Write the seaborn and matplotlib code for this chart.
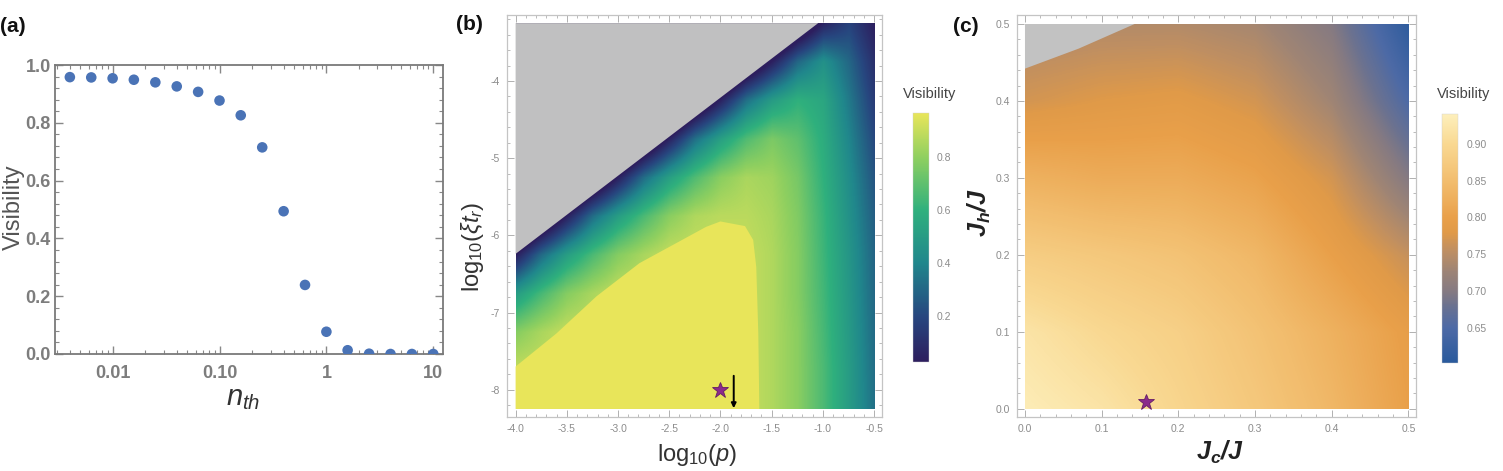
import numpy as np
import pandas as pd
import seaborn as sns
import matplotlib
matplotlib.use("Agg")
import matplotlib.pyplot as plt
from matplotlib.colors import LinearSegmentedColormap, Normalize
from matplotlib.patches import Rectangle
from matplotlib.ticker import MultipleLocator, AutoMinorLocator, FormatStrFormatter

# -----------------------------------------------------------------------------
# Data
# -----------------------------------------------------------------------------
# (a) visibility vs thermal occupation
n_th = [0.00398, 0.00631, 0.01, 0.0158, 0.0251, 0.0398, 0.0631, 0.1, 0.158,
        0.251, 0.398, 0.631, 1.0, 1.58, 2.51, 3.98, 6.31, 10.0]
vis_a = [0.958, 0.957, 0.954, 0.949, 0.940, 0.926, 0.907, 0.877, 0.826,
         0.715, 0.494, 0.239, 0.077, 0.013, 0.001, 0.0, 0.0, 0.0]

# (b) visibility map over log10(p) (columns) x log10(xi t_r) (rows, bottom -> top)
# values under the grey mask (negative) only keep the shading smooth up to its edge
log_p = [-4.0, -3.75, -3.5, -3.25, -3.0, -2.75, -2.5, -2.25, -2.0, -1.75,
         -1.5, -1.25, -1.0, -0.75, -0.5]
log_xt = [-8.25, -7.75, -7.25, -6.75, -6.25, -5.75, -5.25, -4.75, -4.25, -3.75, -3.25]
vis_b = [
    [0.90, 0.90, 0.90, 0.90, 0.90, 0.90, 0.90, 0.90, 0.90, 0.90, 0.86, 0.79, 0.66, 0.50, 0.33],
    [0.90, 0.90, 0.90, 0.90, 0.90, 0.90, 0.90, 0.90, 0.90, 0.90, 0.86, 0.79, 0.66, 0.50, 0.32],
    [0.78, 0.85, 0.90, 0.90, 0.90, 0.90, 0.90, 0.90, 0.90, 0.90, 0.86, 0.79, 0.65, 0.49, 0.31],
    [0.50, 0.65, 0.78, 0.85, 0.90, 0.90, 0.90, 0.90, 0.90, 0.90, 0.86, 0.78, 0.64, 0.48, 0.30],
    [0.03, 0.31, 0.51, 0.66, 0.78, 0.85, 0.90, 0.90, 0.90, 0.90, 0.86, 0.78, 0.63, 0.47, 0.29],
    [-0.49, -0.24, 0.04, 0.32, 0.51, 0.66, 0.79, 0.86, 0.88, 0.88, 0.85, 0.77, 0.62, 0.45, 0.27],
    [-0.99, -0.74, -0.48, -0.23, 0.04, 0.32, 0.52, 0.67, 0.79, 0.85, 0.83, 0.75, 0.60, 0.43, 0.24],
    [-1.49, -1.24, -0.98, -0.73, -0.48, -0.23, 0.05, 0.33, 0.52, 0.67, 0.76, 0.70, 0.58, 0.40, 0.20],
    [-1.99, -1.74, -1.48, -1.23, -0.98, -0.73, -0.47, -0.22, 0.05, 0.33, 0.50, 0.60, 0.55, 0.36, 0.15],
    [-2.49, -2.24, -1.98, -1.73, -1.48, -1.23, -0.97, -0.72, -0.47, -0.21, 0.04, 0.30, 0.45, 0.30, 0.10],
    [-2.99, -2.74, -2.48, -2.23, -1.98, -1.73, -1.47, -1.22, -0.97, -0.71, -0.46, -0.21, 0.05, 0.18, 0.03],
]
# saturated (clipped) plateau outline
plateau_x = [-4.0, -4.0, -3.6, -3.21, -2.79, -2.43, -2.14, -2.0, -1.76, -1.68, -1.65, -1.63, -1.62]
plateau_y = [-8.25, -7.70, -7.27, -6.79, -6.36, -6.10, -5.89, -5.82, -5.88, -6.06, -6.41, -7.27, -8.25]
# undefined region (grey)
grey_b_x = [-4.0, -1.045, -4.0]
grey_b_y = [-6.24, -3.25, -3.25]
star_b = (-2.0, -8.0)
arrow_b = (-1.87, -7.82, -8.24)
cbar_b_range = (0.027, 0.966)
cbar_b_ticks = [0.2, 0.4, 0.6, 0.8]

# (c) visibility map over Jc/J (columns) x Jh/J (rows, bottom -> top)
jc = [0.0, 0.1, 0.2, 0.3, 0.4, 0.5]
jh = [0.0, 0.1, 0.2, 0.3, 0.4, 0.5]
vis_c = [
    [0.935, 0.920, 0.895, 0.870, 0.840, 0.800],
    [0.920, 0.900, 0.885, 0.860, 0.830, 0.795],
    [0.880, 0.870, 0.860, 0.840, 0.800, 0.760],
    [0.830, 0.820, 0.820, 0.805, 0.770, 0.700],
    [0.770, 0.780, 0.785, 0.770, 0.730, 0.650],
    [0.740, 0.745, 0.745, 0.735, 0.700, 0.610],
]
grey_c_x = [0.0, 0.07, 0.143, 0.0]
grey_c_y = [0.442, 0.468, 0.5, 0.5]
star_c = (0.158, 0.009)
cbar_c_range = (0.603, 0.940)
cbar_c_ticks = [0.65, 0.70, 0.75, 0.80, 0.85, 0.90]

# -----------------------------------------------------------------------------
# Style
# -----------------------------------------------------------------------------
sns.set_theme(style="ticks")
plt.rcParams['font.family'] = ['Liberation Sans', 'DejaVu Sans']
plt.rcParams['axes.unicode_minus'] = False
plt.rcParams['mathtext.fontset'] = 'custom'
plt.rcParams['mathtext.rm'] = 'Liberation Sans'
plt.rcParams['mathtext.it'] = 'Liberation Sans:italic'
plt.rcParams['mathtext.bf'] = 'Liberation Sans:bold'
plt.rcParams['mathtext.bfit'] = 'Liberation Sans:bold:italic'

cmap_b = LinearSegmentedColormap.from_list("vis_b", [
    (0.0, '#2d1e5e'), (0.18, '#27467f'), (0.40, '#20878c'),
    (0.61, '#2fb07d'), (0.82, '#8dcf60'), (1.0, '#e8e55a')])

c_lo, c_hi = cbar_c_range
c_stops = [(0.603, '#2a5a9c'), (0.650, '#4d6aa6'), (0.680, '#6b7290'),
           (0.700, '#857a82'), (0.730, '#a08574'), (0.755, '#bf8f62'),
           (0.780, '#e09a48'), (0.800, '#e9a04a'), (0.850, '#f2bd6e'),
           (0.900, '#f9d891'), (0.940, '#fdefbb')]
cmap_c = LinearSegmentedColormap.from_list(
    "vis_c", [((v - c_lo) / (c_hi - c_lo), c) for v, c in c_stops])

W, H = 1503, 471
fig = plt.figure(figsize=(W / 100, H / 100), dpi=100)


def ftxt(xp, yp, s, **kw):
    fig.text(xp / W, 1 - yp / H, s, **kw)


def frame_style(ax, spine_col, lw):
    for sp in ax.spines.values():
        sp.set_color(spine_col)
        sp.set_linewidth(lw)
        sp.set_visible(True)


def smooth_map(ax, xs, ys, vals, cmap, vrange):
    # grid points sit at pixel centres; bilinear in data space, clipped to the grid
    dx = (xs[1] - xs[0]) / 2
    dy = (ys[1] - ys[0]) / 2
    im = ax.imshow(np.array(vals), origin='lower', cmap=cmap, norm=Normalize(*vrange),
                   extent=[xs[0] - dx, xs[-1] + dx, ys[0] - dy, ys[-1] + dy],
                   interpolation='bilinear', interpolation_stage='data',
                   aspect='auto', zorder=1)
    clip = Rectangle((xs[0], ys[0]), xs[-1] - xs[0], ys[-1] - ys[0],
                     transform=ax.transData, fc='none', ec='none')
    im.set_clip_path(clip)
    return im


# -----------------------------------------------------------------------------
# (a)
# -----------------------------------------------------------------------------
ax_a = fig.add_axes([55 / W, 1 - 354 / H, 387.7 / W, 289 / H])
df_a = pd.DataFrame({'n_th': n_th, 'vis': vis_a})
sns.scatterplot(data=df_a, x='n_th', y='vis', ax=ax_a, color='#4a73b6',
                s=58, edgecolor='none', legend=False, zorder=3)
ax_a.set_xscale('log')
ax_a.set_xlim(0.00289, 12.25)
ax_a.set_ylim(0, 1)
ax_a.set_xticks([0.01, 0.1, 1, 10])
ax_a.set_xticklabels(['0.01', '0.10', '1', '10'])
ax_a.set_yticks([0, 0.2, 0.4, 0.6, 0.8, 1.0])
ax_a.set_yticklabels(['0.0', '0.2', '0.4', '0.6', '0.8', '1.0'])
ax_a.yaxis.set_minor_locator(AutoMinorLocator(5))
ax_a.tick_params(which='both', direction='in', top=True, right=True,
                 color='#888888', labelcolor='#7d7d7d', labelsize=13)
ax_a.tick_params(which='major', length=6, width=1)
ax_a.tick_params(which='minor', length=3, width=0.8)
ax_a.tick_params(axis='x', pad=8)
ax_a.tick_params(axis='y', pad=3)
for lab in ax_a.get_xticklabels() + ax_a.get_yticklabels():
    lab.set_fontweight('bold')
ax_a.set_xlabel('')
ax_a.set_ylabel('')
frame_style(ax_a, '#7a7a7a', 1.3)

# -----------------------------------------------------------------------------
# (b)
# -----------------------------------------------------------------------------
ax_b = fig.add_axes([506.7 / W, 1 - 416.7 / H, 375 / W, 401.7 / H])
im_b = smooth_map(ax_b, log_p, log_xt, vis_b, cmap_b, cbar_b_range)
ax_b.fill(plateau_x, plateau_y, color=cmap_b(1.0), lw=0, zorder=2)
ax_b.fill(grey_b_x, grey_b_y, color='#c0c0c1', lw=0, zorder=3)
ax_b.plot(*star_b, marker='*', ms=12, color='#8b2b8b', mec='#651d65', mew=0.6, zorder=5)
ax_b.annotate('', xy=(arrow_b[0], arrow_b[2]), xytext=(arrow_b[0], arrow_b[1]),
              arrowprops=dict(arrowstyle='-|>', color='black', lw=1.4,
                              mutation_scale=7, shrinkA=0, shrinkB=0), zorder=6)
ax_b.set_xlim(-4.087, -0.425)
ax_b.set_ylim(-8.35, -3.145)
ax_b.xaxis.set_major_locator(MultipleLocator(0.5))
ax_b.xaxis.set_minor_locator(MultipleLocator(0.1))
ax_b.yaxis.set_major_locator(MultipleLocator(1))
ax_b.yaxis.set_minor_locator(MultipleLocator(0.2))
ax_b.xaxis.set_major_formatter(FormatStrFormatter('%.1f'))
ax_b.yaxis.set_major_formatter(FormatStrFormatter('%d'))

# -----------------------------------------------------------------------------
# (c)
# -----------------------------------------------------------------------------
ax_c = fig.add_axes([1016.7 / W, 1 - 416.7 / H, 399 / W, 401.7 / H])
im_c = smooth_map(ax_c, jc, jh, vis_c, cmap_c, cbar_c_range)
ax_c.fill(grey_c_x, grey_c_y, color='#c2c2c2', lw=0, zorder=3)
ax_c.plot(*star_c, marker='*', ms=12, color='#8b2b8b', mec='#651d65', mew=0.6,
          zorder=5, clip_on=False)
ax_c.set_xlim(-0.0108, 0.5096)
ax_c.set_ylim(-0.0104, 0.5117)
ax_c.xaxis.set_major_locator(MultipleLocator(0.1))
ax_c.xaxis.set_minor_locator(MultipleLocator(0.02))
ax_c.yaxis.set_major_locator(MultipleLocator(0.1))
ax_c.yaxis.set_minor_locator(MultipleLocator(0.02))
ax_c.xaxis.set_major_formatter(FormatStrFormatter('%.1f'))
ax_c.yaxis.set_major_formatter(FormatStrFormatter('%.1f'))

for ax in (ax_b, ax_c):
    ax.tick_params(which='both', direction='in', top=True, right=True,
                   color='#b0b0b0', labelcolor='#8c8c8c', labelsize=7.5, pad=5)
    ax.tick_params(which='major', length=5, width=0.7)
    ax.tick_params(which='minor', length=2.5, width=0.6)
    frame_style(ax, '#c4c4c4', 0.9)

# colorbars
for im, rect, ticks, fmt in [
        (im_b, [912.7 / W, 1 - 361.7 / H, 16 / W, 248.4 / H], cbar_b_ticks, '%.1f'),
        (im_c, [1441.7 / W, 1 - 362.7 / H, 16.6 / W, 248.4 / H], cbar_c_ticks, '%.2f')]:
    cax = fig.add_axes(rect)
    cb = fig.colorbar(im, cax=cax, format=fmt)
    cb.set_ticks(ticks)
    cb.outline.set_linewidth(0.3)
    cb.outline.set_edgecolor('#d0d0d0')
    cax.tick_params(length=0, labelsize=7.5, labelcolor='#8c8c8c', pad=6)

# -----------------------------------------------------------------------------
# Text
# -----------------------------------------------------------------------------
ftxt(0, 26, '(a)', fontsize=15, fontweight='bold', ha='left', va='center', color='#111111')
ftxt(456, 25, '(b)', fontsize=15, fontweight='bold', ha='left', va='center', color='#111111')
ftxt(953, 26, '(c)', fontsize=15, fontweight='bold', ha='left', va='center', color='#111111')

ftxt(14, 207, 'Visibility', fontsize=17, rotation=90, ha='center', va='center', color='#555555')
ftxt(243, 398, r'$n_{th}$', fontsize=21, ha='center', va='center', color='#333333')

ftxt(697, 455, r'$\mathrm{log}_{10}(p)$', fontsize=17, ha='center', va='center', color='#333333')
ftxt(472, 247, r'$\mathrm{log}_{10}(\xi t_r)$', fontsize=17, rotation=90,
     ha='center', va='center', color='#333333')

ftxt(1220, 452, r'$\mathbfit{J_c/J}$', fontsize=18, ha='center', va='center', color='#222222')
ftxt(979, 213, r'$\mathbfit{J_h/J}$', fontsize=18, rotation=90, ha='center', va='center',
     color='#222222')

ftxt(930, 94, 'Visibility', fontsize=10.5, ha='center', va='center', color='#444444')
ftxt(1463.5, 94, 'Visibility', fontsize=10.5, ha='center', va='center', color='#444444')

fig.savefig('out.png', dpi=100)
